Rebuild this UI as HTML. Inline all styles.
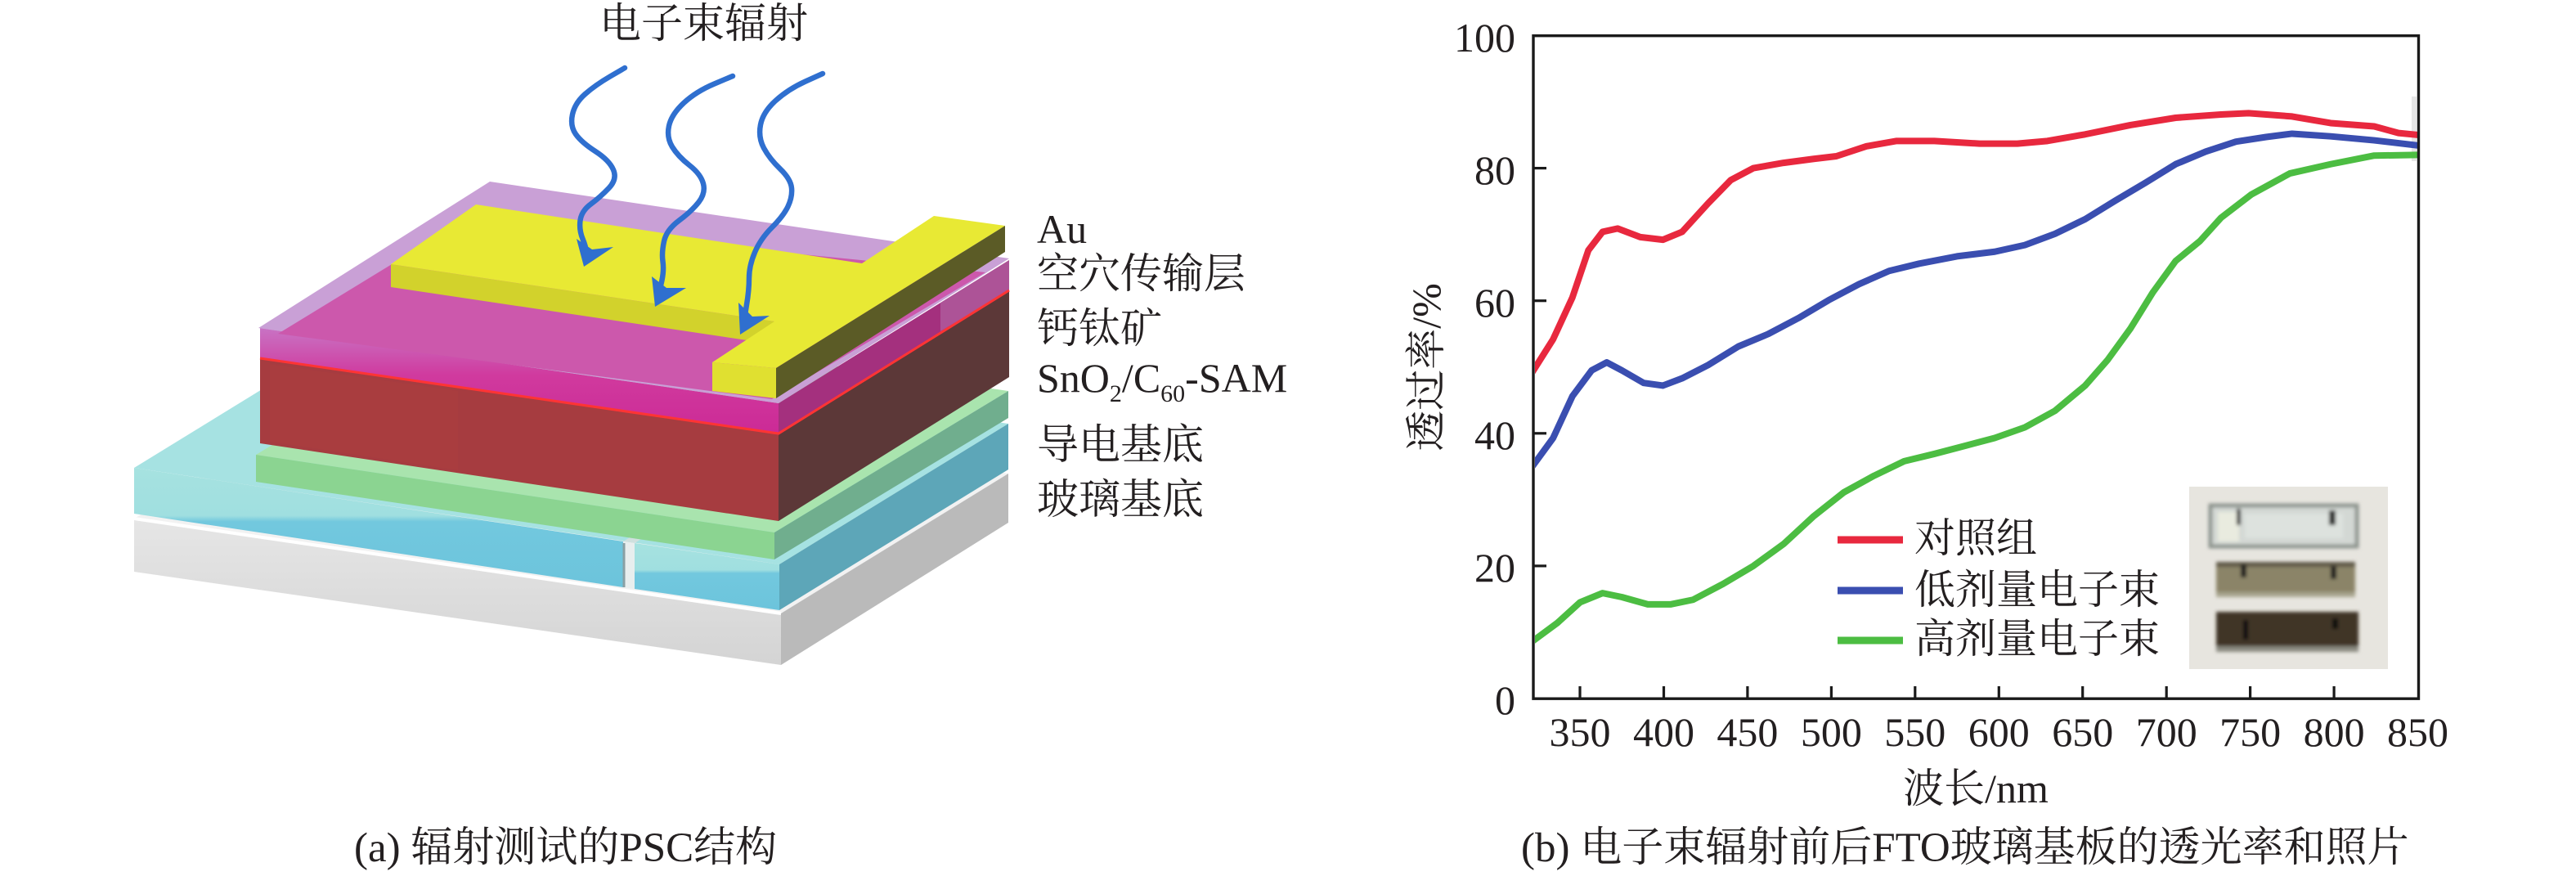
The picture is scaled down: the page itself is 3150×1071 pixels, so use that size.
<!DOCTYPE html>
<html>
<head>
<meta charset="utf-8">
<style>
  html,body{margin:0;padding:0;background:#fff;}
  svg{display:block;}
  svg text{font-family:"Liberation Serif","Noto Serif CJK SC",serif;fill:#231f20;}
</style>
</head>
<body>
<svg width="3150" height="1071" viewBox="0 0 3150 1071" xmlns="http://www.w3.org/2000/svg" font-family="'Liberation Serif','Noto Serif CJK SC',serif">
  <defs>
    <linearGradient id="blueFront" x1="0" y1="0" x2="0" y2="1">
      <stop offset="0" stop-color="#a6e2e0"/>
      <stop offset="0.4" stop-color="#a0dfe0"/>
      <stop offset="0.45" stop-color="#72c8de"/>
      <stop offset="1" stop-color="#6cc4dc"/>
    </linearGradient>
    <linearGradient id="glassFront" x1="0" y1="0" x2="0" y2="1">
      <stop offset="0" stop-color="#e6e6e6"/>
      <stop offset="1" stop-color="#d4d4d4"/>
    </linearGradient>
    <linearGradient id="magFront" x1="0" y1="0" x2="0" y2="1">
      <stop offset="0" stop-color="#c873c4"/>
      <stop offset="0.45" stop-color="#d03a9e"/>
      <stop offset="1" stop-color="#cc2a96"/>
    </linearGradient>
    <clipPath id="plotClip">
      <rect x="1877" y="45" width="1079" height="808"/>
    </clipPath>
    <filter id="soft" x="-5%" y="-5%" width="110%" height="110%">
      <feGaussianBlur stdDeviation="2.2"/>
    </filter>
  </defs>

  <!-- ================= LEFT PANEL ================= -->
  <text x="733" y="46" font-size="51">电子束辐射</text>

  <!-- Glass substrate -->
  <polygon points="164,634 442,463 1233,579 955,750" fill="#f2f2f2"/>
  <polygon points="955,750 1233,579 1233,639 955,813" fill="#bababa"/>
  <polygon points="164,634 955,750 955,813 164,699" fill="url(#glassFront)"/>
  <line x1="164" y1="634" x2="955" y2="750" stroke="#ffffff" stroke-width="4"/>

  <!-- Blue FTO -->
  <polygon points="164,572 444,400 1233,518 953,690" fill="#a6e2e2"/>
  <polygon points="762,662 776,664 1056,492 1042,490" fill="#cfe0de"/>
  <polygon points="953,690 1233,518 1233,574 953,746" fill="#5da6b8"/>
  <polygon points="164,572 762,662 762,718 164,628" fill="url(#blueFront)"/>
  <polygon points="776,664 953,690 953,746 776,720" fill="url(#blueFront)"/>
  <polygon points="762,662 776,664 776,720 762,718" fill="#e8eeee"/>
  <line x1="763" y1="664" x2="763" y2="718" stroke="#8aa0a4" stroke-width="3"/>

  <!-- Green layer -->
  <polygon points="313,556 595,386 1233,478 947,651" fill="#a9e4ae"/>
  <polygon points="947,651 1233,478 1233,511 947,684" fill="#70ae8e"/>
  <polygon points="313,556 947,651 947,684 313,589" fill="#8bd491"/>

  <!-- Red perovskite box -->
  <polygon points="952,530 1234,355 1234,461 952,637" fill="#5c3838"/>
  <polygon points="318,438 952,530 952,637 318,542" fill="#a63c40"/>
  <polygon points="330,445 560,478 560,575 330,540" fill="#b04040" opacity="0.35"/>

  <!-- Magenta / lilac layer -->
  <polygon points="952,493 1234,318 1234,355 952,530" fill="#a4307e"/>
  <polygon points="1150,370 1234,318 1234,355 1150,405" fill="#b46aa8" opacity="0.6"/>
  <polygon points="318,401 952,493 952,530 318,438" fill="url(#magFront)"/>
  <polygon points="316,401 599,222 1234,316 952,493" fill="#c9a0d6"/>
  <polygon points="340,408 566,270 1205,333 944,488" fill="#cc58ac"/>
  <!-- red edge line -->
  <polyline points="318,438 952,530 1234,355" fill="none" stroke="#ff3434" stroke-width="3"/>

  <!-- Yellow Au electrodes -->
  <polygon points="478,323 947,393 947,421 478,351" fill="#d2d22c"/>
  <polygon points="582,250 1054,322 1142,264 1229,276 949,450 871,443 947,393 478,323" fill="#e8e934"/>
  <polygon points="871,443 949,450 949,487 871,478" fill="#e0e030"/>
  <polygon points="949,450 1229,276 1229,308 949,487" fill="#5b5b26"/>

  <!-- Electron beam arrows -->
  <g fill="none" stroke="#2f6fcf" stroke-width="6.5" stroke-linejoin="round" stroke-linecap="round">
    <path d="M764,83 L746,93.5 Q728,104 715.5,115 Q703,126 700,140 Q697,154 704,164 Q711,174 728,185 Q745,196 750,207.5 Q755,219 744.5,230 Q734,241 722.5,249.5 Q711,258 709.5,269.5 Q708,281 712.5,292 Q717,303 716.5,307.5 L716,314"/>
    <path d="M896,93 L873.5,102.5 Q851,112 836,126 Q821,140 818,154 Q815,168 822,179.5 Q829,191 843,202 Q857,213 860,224.5 Q863,236 854.5,247 Q846,258 830.5,269.5 Q815,281 812,295 Q809,309 810.5,319.5 Q812,330 809.5,342.5 L806,358"/>
    <path d="M1006,90 L985,99.5 Q964,109 948.5,123 Q933,137 930,152.5 Q927,168 934,181 Q941,194 954,206.5 Q967,219 968,230 Q969,241 963.5,252.5 Q958,264 944,278 Q930,292 923,308.5 Q916,325 916,340 Q916,355 913,372.5 L910,392"/>
  </g>
  <g fill="#2f6fcf">
    <polygon points="714,326 705,292 724,305 750,302"/>
    <polygon points="801,375 797,338 815,352 839,352"/>
    <polygon points="905,409 903,370 920,387 941,386"/>
  </g>

  <!-- Layer labels -->
  <g font-family="'Liberation Serif','Noto Serif CJK SC',serif">
    <text x="1268" y="297" font-size="50">Au</text>
    <text x="1268" y="352" font-size="51">空穴传输层</text>
    <text x="1268" y="419" font-size="51">钙钛矿</text>
    <text x="1268" y="479" font-size="50">SnO<tspan font-size="30" dy="12">2</tspan><tspan dy="-12">/C</tspan><tspan font-size="30" dy="12">60</tspan><tspan dy="-12">-SAM</tspan></text>
    <text x="1268" y="561" font-size="51">导电基底</text>
    <text x="1268" y="628" font-size="51">玻璃基底</text>
    <!-- Caption a -->
    <text x="433" y="1053" font-size="51">(a) 辐射测试的PSC结构</text>
  </g>

  <!-- ================= RIGHT PANEL ================= -->
  <!-- faint artifact -->
  <rect x="2949" y="118" width="6" height="79" fill="#e6e6e6"/>

  <!-- Curves -->
  <g clip-path="url(#plotClip)">
    <g transform="matrix(2.049 0 0 -8.105 1214.85 854)" fill="none" stroke-linejoin="round" stroke-linecap="round">
      <polyline vector-effect="non-scaling-stroke" stroke="#e8283e" stroke-width="8"
        points="321,49.0 334,54.2 345.5,60.5 355,67.6 363.5,70.4 372.5,70.9 386,69.6 399.5,69.2 411,70.4 426.5,74.7 440,78.2 453.5,80.0 471.5,80.8 489.5,81.4 503,81.8 521,83.3 539,84.1 561.5,84.1 588.5,83.7 611,83.7 629,84.1 651.5,85.1 678.5,86.5 705.5,87.6 732.5,88.1 749,88.3 775,87.8 798,86.8 824,86.3 838.5,85.3 851,85.0"/>
      <polyline vector-effect="non-scaling-stroke" stroke="#3a4eb0" stroke-width="8"
        points="321,34.8 334,39.3 345.5,45.6 357,49.5 366,50.7 375,49.5 388,47.6 399.5,47.2 411,48.3 426.5,50.3 444.5,53.1 462.5,55.0 480.5,57.4 498.5,60.1 516.5,62.5 534.5,64.5 552.5,65.6 575,66.7 597.5,67.4 615.5,68.4 633.5,70.1 651.5,72.3 669.5,75.1 687.5,77.8 705.5,80.6 723.5,82.5 741.5,84.0 759.5,84.7 775,85.2 798,84.8 824,84.2 851,83.4"/>
      <polyline vector-effect="non-scaling-stroke" stroke="#4cbd42" stroke-width="8"
        points="321,8.5 336.5,11.4 350,14.5 363.5,15.9 375,15.3 390.5,14.2 404,14.2 417.5,14.9 435.5,17.3 453.5,20.0 471.5,23.3 489.5,27.5 507.5,31.1 525.5,33.6 543.5,35.8 561.5,36.9 579.5,38.1 597.5,39.3 615.5,40.9 633.5,43.4 651.5,47.2 665,51.1 678.5,55.8 692,61.3 705.5,66.0 720,69.0 732.5,72.5 750.5,76.0 773.6,79.2 798,80.6 824,81.9 851,82.0"/>
    </g>
  </g>

  <!-- Frame -->
  <rect x="1875" y="43.7" width="1082.5" height="810.5" fill="none" stroke="#1a1a1a" stroke-width="3.4"/>
  <!-- y ticks -->
  <g stroke="#1a1a1a" stroke-width="3.2">
    <line x1="1875" y1="205.6" x2="1891" y2="205.6"/>
    <line x1="1875" y1="367.7" x2="1891" y2="367.7"/>
    <line x1="1875" y1="529.8" x2="1891" y2="529.8"/>
    <line x1="1875" y1="691.9" x2="1891" y2="691.9"/>
  </g>
  <!-- x ticks -->
  <g stroke="#1a1a1a" stroke-width="3.2">
    <line x1="1932" y1="854" x2="1932" y2="839"/>
    <line x1="2034.5" y1="854" x2="2034.5" y2="839"/>
    <line x1="2136.9" y1="854" x2="2136.9" y2="839"/>
    <line x1="2239.4" y1="854" x2="2239.4" y2="839"/>
    <line x1="2341.8" y1="854" x2="2341.8" y2="839"/>
    <line x1="2444.3" y1="854" x2="2444.3" y2="839"/>
    <line x1="2546.7" y1="854" x2="2546.7" y2="839"/>
    <line x1="2649.2" y1="854" x2="2649.2" y2="839"/>
    <line x1="2751.6" y1="854" x2="2751.6" y2="839"/>
    <line x1="2854.1" y1="854" x2="2854.1" y2="839"/>
  </g>

  <g font-family="'Liberation Serif','Noto Serif CJK SC',serif">
    <!-- y tick labels -->
    <g font-size="50" text-anchor="end">
      <text x="1853" y="63">100</text>
      <text x="1853" y="225">80</text>
      <text x="1853" y="387">60</text>
      <text x="1853" y="549">40</text>
      <text x="1853" y="711">20</text>
      <text x="1853" y="873">0</text>
    </g>
    <!-- x tick labels -->
    <g font-size="50" text-anchor="middle">
      <text x="1932" y="912">350</text>
      <text x="2034.5" y="912">400</text>
      <text x="2136.9" y="912">450</text>
      <text x="2239.4" y="912">500</text>
      <text x="2341.8" y="912">550</text>
      <text x="2444.3" y="912">600</text>
      <text x="2546.7" y="912">650</text>
      <text x="2649.2" y="912">700</text>
      <text x="2751.6" y="912">750</text>
      <text x="2854.1" y="912">800</text>
      <text x="2956.5" y="912">850</text>
    </g>

    <!-- Axis labels -->
    <text x="2416" y="981" font-size="50" text-anchor="middle">波长/nm</text>
    <text transform="translate(1761,449) rotate(-90)" font-size="50" text-anchor="middle">透过率/%</text>

    <!-- Legend text -->
    <g font-size="50">
      <text x="2341" y="675">对照组</text>
      <text x="2341" y="738">低剂量电子束</text>
      <text x="2341" y="798">高剂量电子束</text>
    </g>

    <!-- Caption b -->
    <text x="1860" y="1053" font-size="51">(b) 电子束辐射前后FTO玻璃基板的透光率和照片</text>
  </g>

  <!-- Legend lines -->
  <g stroke-width="9">
    <line x1="2247" y1="660" x2="2327" y2="660" stroke="#e8283e"/>
    <line x1="2247" y1="722" x2="2327" y2="722" stroke="#3a4eb0"/>
    <line x1="2247" y1="783" x2="2327" y2="783" stroke="#4cbd42"/>
  </g>

  <!-- Photo inset -->
  <rect x="2677" y="595" width="243" height="223" fill="#e7e5df"/>
  <g filter="url(#soft)">
    <!-- slide 1 -->
    <rect x="2703" y="618" width="179" height="50" fill="#d3d8d4" stroke="#8e958f" stroke-width="5"/>
    <rect x="2712" y="626" width="26" height="36" fill="#e9ebdf"/>
    <rect x="2745" y="628" width="120" height="30" fill="#dde2de"/>
    <rect x="2735" y="622" width="5" height="20" fill="#2a2a2a"/>
    <rect x="2848" y="624" width="8" height="18" fill="#2a2a2a"/>
    <!-- slide 2 -->
    <rect x="2710" y="687" width="170" height="43" fill="#8b8467"/>
    <rect x="2710" y="687" width="170" height="6" fill="#5e5846"/>
    <rect x="2710" y="724" width="170" height="6" fill="#a8a58f"/>
    <rect x="2740" y="690" width="7" height="16" fill="#1e1e1e"/>
    <rect x="2850" y="692" width="7" height="16" fill="#1e1e1e"/>
    <!-- slide 3 -->
    <rect x="2710" y="748" width="174" height="49" fill="#3f3628"/>
    <rect x="2710" y="790" width="174" height="7" fill="#8a8a80"/>
    <rect x="2743" y="758" width="6" height="24" fill="#111"/>
    <rect x="2852" y="756" width="7" height="13" fill="#111"/>
  </g>
</svg>
</body>
</html>
